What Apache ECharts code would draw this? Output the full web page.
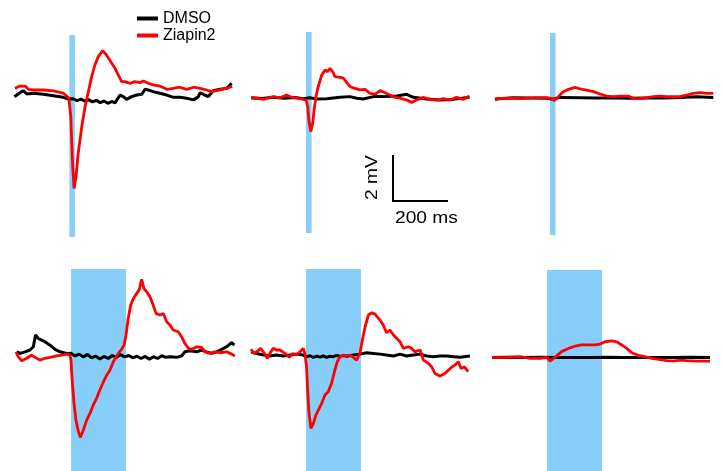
<!DOCTYPE html>
<html>
<head>
<meta charset="utf-8">
<script src="https://cdn.jsdelivr.net/npm/echarts@6/dist/echarts.min.js"></script>
<style>
html,body{margin:0;padding:0;background:#fff;}
#chart{width:723px;height:471px;}
</style>
</head>
<body>
<div id="chart"></div>
<script>
// ---- data: [time (ms), voltage (mV)] ----
const seriesNames = ['DMSO', 'Ziapin2'];
const stimShort = [200, 220];   // ms, top row light pulse
const stimLong = [200, 400];    // ms, bottom row light pulse
const scaleBarLabels = ['2 mV', '200 ms'];

const p1Dmso = [[0,-0.29],[20,-0.12],[32,-0.03],[45,-0.17],[69,-0.14],[105,-0.19],[142,-0.25],[178,-0.32],[196,-0.39],[214,-0.38],[228,-0.46],[242,-0.40],[256,-0.48],[270,-0.42],[284,-0.52],[298,-0.45],[312,-0.55],[326,-0.48],[340,-0.58],[354,-0.50],[366,-0.56],[372,-0.51],[384,-0.22],[396,-0.29],[408,-0.41],[426,-0.29],[445,-0.22],[463,-0.19],[475,0.03],[487,0.0],[505,-0.07],[529,-0.14],[554,-0.22],[578,-0.32],[602,-0.32],[626,-0.36],[651,-0.43],[669,-0.29],[675,-0.12],[693,-0.22],[705,-0.29],[723,-0.03],[748,0.03],[772,0.07],[790,0.29]];
const p1Zia = [[2,0.07],[20,0.17],[39,0.17],[51,0.03],[69,0],[105,0],[142,-0.04],[178,-0.14],[190,-0.26],[198,-0.36],[205,-1.16],[208,-2.17],[212,-3.33],[217,-4.28],[224,-3.77],[232,-2.75],[245,-1.59],[257,-0.72],[269,-0.07],[281,0.58],[293,1.09],[305,1.45],[321,1.71],[335,1.52],[354,1.16],[366,0.94],[378,0.65],[390,0.36],[402,0.36],[420,0.29],[438,0.36],[457,0.32],[469,0.39],[487,0.29],[505,0.22],[529,0.17],[554,0.03],[578,0.07],[602,0.12],[626,0.03],[651,0.12],[675,0.07],[699,0],[717,-0.07],[735,-0.03],[754,0.03],[772,0.07],[792,0.15]];

const p2Dmso = [[0,0.01],[40,-0.02],[81,0.03],[120,-0.01],[160,0.02],[190,-0.03],[214,0.01],[238,-0.04],[275,-0.03],[323,0.03],[360,0.06],[384,-0.01],[408,-0.04],[445,0.06],[481,0.06],[529,0.09],[566,0.16],[590,0.03],[638,-0.04],[687,-0.09],[735,-0.06],[794,0.03]];
const p2Zia = [[0,0.01],[20,-0.01],[44,-0.06],[63,0.01],[81,0.06],[105,0.01],[129,0.13],[141,0.06],[166,-0.01],[190,-0.06],[200,-0.09],[206,-0.38],[210,-0.96],[217,-1.46],[224,-1.10],[229,-0.52],[236,0.06],[244,0.49],[257,1.0],[269,1.22],[277,1.14],[287,1.29],[297,1.14],[305,0.93],[323,0.90],[336,0.86],[348,0.67],[360,0.49],[378,0.42],[396,0.35],[414,0.38],[432,0.20],[451,0.17],[469,0.32],[487,0.23],[505,0.13],[523,0.03],[542,-0.01],[566,-0.09],[584,-0.19],[602,-0.09],[626,0.03],[650,-0.06],[675,-0.09],[699,-0.03],[723,-0.09],[747,0.03],[772,-0.06],[794,0.09]];

const p3Dmso = [[0,-0.03],[67,0.03],[127,0.01],[188,0],[212,-0.04],[236,0.04],[309,0.03],[370,0.02],[430,0.01],[490,0.0],[552,0.01],[612,0.02],[673,0.04],[733,0.07],[794,0.04]];
const p3Zia = [[0,-0.07],[18,0],[67,0],[103,-0.01],[139,0.03],[188,0.03],[206,0],[215,-0.1],[230,0.07],[248,0.29],[267,0.39],[291,0.48],[309,0.41],[333,0.36],[358,0.29],[382,0.19],[406,0.1],[430,0.07],[455,0.1],[485,0.1],[503,0],[527,-0.01],[552,0.03],[576,0.07],[600,0.1],[624,0.07],[673,0.07],[697,0.14],[721,0.22],[745,0.25],[770,0.22],[794,0.22]];

const p4Dmso = [[2,0.14],[15,0.07],[33,0.14],[51,0.22],[63,0.36],[71,0.87],[81,0.72],[93,0.65],[105,0.58],[124,0.43],[142,0.25],[160,0.14],[184,0.07],[200,0.08],[215,-0.04],[230,0.04],[245,-0.08],[260,0.03],[275,-0.12],[290,-0.05],[305,-0.17],[320,-0.06],[335,-0.15],[350,-0.02],[365,-0.10],[380,0.02],[395,-0.08],[410,-0.02],[425,-0.12],[440,-0.05],[455,-0.15],[470,-0.06],[485,-0.18],[500,-0.07],[515,-0.15],[530,-0.03],[545,-0.10],[560,-0.07],[584,-0.1],[602,-0.04],[614,0.14],[633,0.19],[657,0.14],[675,0.22],[693,0.14],[712,0.07],[730,0.14],[748,0.25],[766,0.36],[784,0.54],[794,0.43]];
const p4Zia = [[0,0.14],[8,-0.07],[21,-0.25],[39,-0.14],[57,0],[69,-0.1],[87,-0.22],[105,-0.14],[124,-0.1],[148,-0.04],[166,0],[184,0.04],[196,0],[200,-0.22],[205,-1.23],[211,-2.1],[218,-2.83],[227,-3.33],[234,-3.58],[245,-3.26],[257,-2.83],[269,-2.54],[281,-2.17],[293,-1.88],[305,-1.52],[318,-1.16],[330,-0.87],[342,-0.65],[354,-0.29],[372,0.07],[384,0.25],[393,0.43],[400,0.87],[408,1.59],[417,2.17],[427,2.46],[439,2.68],[448,2.83],[457,3.29],[465,2.9],[475,2.75],[487,2.54],[499,2.17],[509,1.81],[524,1.74],[536,1.81],[548,1.45],[560,1.3],[572,1.09],[590,1.01],[602,0.8],[614,0.51],[627,0.29],[639,0.25],[657,0.36],[675,0.33],[687,0.14],[705,0.07],[724,0.14],[742,0.1],[766,0.14],[784,0.04],[796,-0.04]];

const p5Dmso = [[0,0.14],[21,0.07],[45,0],[69,-0.04],[93,0],[118,-0.04],[142,0],[166,0.04],[190,0],[202,-0.07],[215,-0.03],[227,-0.1],[240,-0.05],[251,-0.09],[263,-0.04],[275,-0.1],[287,-0.05],[299,-0.07],[312,-0.02],[324,-0.06],[336,-0.02],[348,-0.05],[372,0],[396,0.04],[421,0.1],[445,0.07],[469,0.04],[493,0],[518,-0.04],[542,0.04],[566,-0.04],[590,0],[615,0.04],[639,-0.04],[663,-0.07],[687,-0.04],[712,-0.04],[736,-0.07],[760,-0.1],[796,-0.04]];
const p5Zia = [[0,0.25],[11,0.07],[21,0.14],[35,0.29],[47,0.1],[59,-0.14],[72,0.14],[81,0.29],[93,0.22],[105,0.22],[124,0.07],[139,-0.1],[152,0.07],[166,0],[178,0.14],[190,0.29],[196,0.07],[202,-0.51],[206,-1.52],[211,-2.54],[218,-3.19],[227,-2.97],[236,-2.61],[245,-2.39],[257,-2.1],[269,-1.74],[281,-1.59],[293,-1.23],[305,-0.65],[314,-0.29],[324,-0.07],[336,0],[348,-0.04],[360,0],[372,-0.1],[384,-0.22],[396,0.07],[405,0.65],[415,1.23],[427,1.74],[439,1.84],[451,1.78],[469,1.52],[481,1.3],[493,0.97],[505,1.09],[518,0.87],[530,0.72],[542,0.58],[554,0.29],[572,0.36],[584,0.29],[596,0.14],[615,0.22],[627,-0.22],[645,-0.36],[657,-0.51],[669,-0.8],[687,-0.91],[705,-0.8],[724,-0.58],[742,-0.43],[754,-0.29],[764,-0.58],[776,-0.51],[790,-0.72]];

const p6Dmso = [[1,0],[60,0.01],[120,0],[180,0.01],[240,0],[300,-0.01],[360,0],[420,0.01],[480,0],[540,0],[600,-0.01],[660,0],[720,0.01],[793,0]];
const p6Zia = [[1,-0.01],[53,0],[102,0.03],[138,-0.04],[175,-0.04],[199,0],[211,-0.16],[229,0],[253,0.25],[278,0.39],[302,0.49],[326,0.54],[350,0.54],[375,0.54],[393,0.58],[411,0.68],[435,0.72],[453,0.68],[472,0.54],[490,0.39],[508,0.2],[532,0.09],[556,0.03],[581,-0.04],[605,-0.09],[635,-0.14],[659,-0.16],[684,-0.12],[708,-0.14],[744,-0.16],[793,-0.16]];

const panels = [
  {dmso: p1Dmso, zia: p1Zia, stim: stimShort, left: 14.4, top: 35,  height: 202, yMin: -6.39, yMax: 2.39},
  {dmso: p2Dmso, zia: p2Zia, stim: stimShort, left: 251.1, top: 32, height: 201, yMin: -5.87, yMax: 2.87},
  {dmso: p3Dmso, zia: p3Zia, stim: stimShort, left: 495, top: 33,  height: 202, yMin: -5.94, yMax: 2.84},
  {dmso: p4Dmso, zia: p4Zia, stim: stimLong,  left: 16,  top: 269, height: 202, yMin: -5.04, yMax: 3.74},
  {dmso: p5Dmso, zia: p5Zia, stim: stimLong,  left: 251, top: 269, height: 202, yMin: -5.04, yMax: 3.74},
  {dmso: p6Dmso, zia: p6Zia, stim: stimLong,  left: 492, top: 270, height: 201, yMin: -4.94, yMax: 3.80}
];

const chart = echarts.init(document.getElementById('chart'), null, {renderer: 'canvas'});
const grid = [], xAxis = [], yAxis = [], series = [];
panels.forEach((p, i) => {
  grid.push({left: p.left, top: p.top, width: 220, height: p.height});
  xAxis.push({type: 'value', gridIndex: i, min: 0, max: 800, show: false});
  yAxis.push({type: 'value', gridIndex: i, min: p.yMin, max: p.yMax, show: false});
  series.push({
    name: seriesNames[0], type: 'line', xAxisIndex: i, yAxisIndex: i,
    data: p.dmso, showSymbol: false, symbol: 'none',
    lineStyle: {color: '#000', width: 3}, itemStyle: {color: '#000'},
    z: 3,
    markArea: {silent: true, itemStyle: {color: '#87CEFA', opacity: 1},
      data: [[{xAxis: p.stim[0]}, {xAxis: p.stim[1]}]]}
  });
  series.push({
    name: seriesNames[1], type: 'line', xAxisIndex: i, yAxisIndex: i,
    data: p.zia, showSymbol: false, symbol: 'none',
    lineStyle: {color: '#FF0000', width: 2.8}, itemStyle: {color: '#FF0000'},
    z: 4
  });
});

const font = 'Liberation Sans, Arial, Helvetica, sans-serif';
chart.setOption({
  animation: false,
  backgroundColor: '#fff',
  grid, xAxis, yAxis, series,
  legend: {
    data: seriesNames, orient: 'vertical', left: 133, top: 10,
    icon: 'rect', itemWidth: 21, itemHeight: 4, itemGap: 0, itemTextGap: 11,
    padding: [0, 4],
    textStyle: {fontSize: 16, color: '#000', fontFamily: font, lineHeight: 17}
  },
  graphic: [
    {type: 'polyline', shape: {points: [[393, 155], [393, 201], [448, 201]]},
     style: {stroke: '#000', lineWidth: 2, fill: null}},
    {type: 'text', x: 373, y: 177.5, rotation: Math.PI / 2, scaleX: 1.2,
     style: {text: scaleBarLabels[0], fontSize: 16, fontFamily: font, fill: '#000',
             textAlign: 'center', textVerticalAlign: 'middle'}},
    {type: 'text', x: 395, y: 219, scaleX: 1.2,
     style: {text: scaleBarLabels[1], fontSize: 16, fontFamily: font, fill: '#000',
             textAlign: 'left', textVerticalAlign: 'middle'}}
  ]
});
</script>
</body>
</html>
